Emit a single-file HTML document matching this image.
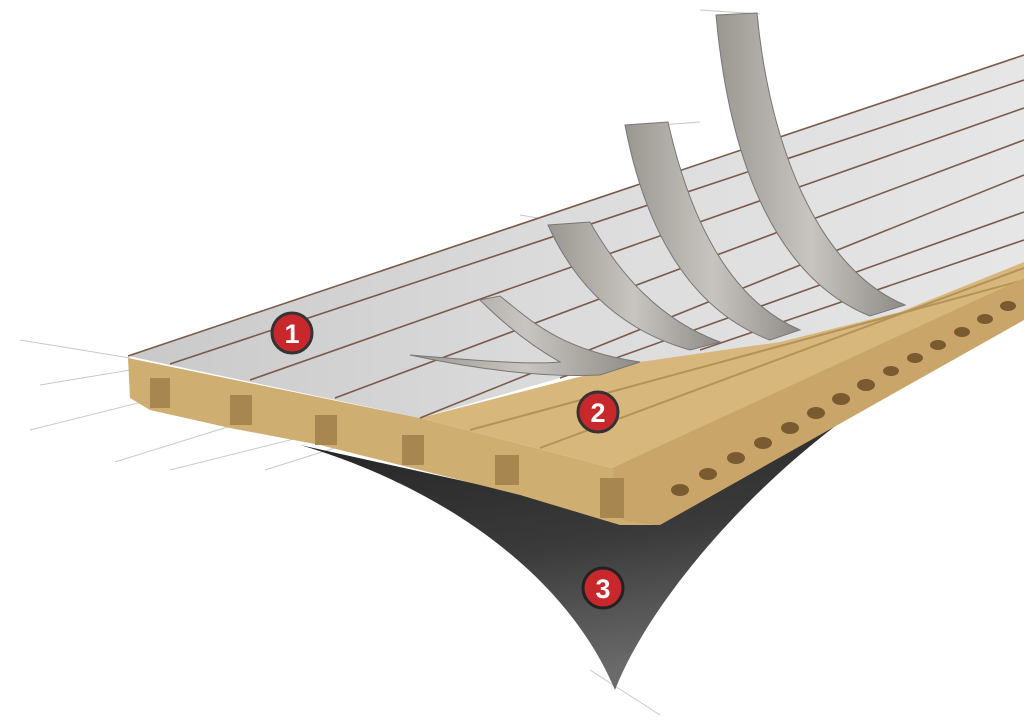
<!DOCTYPE html>
<html><head><style>html,body{margin:0;padding:0;background:#fff;width:1024px;height:722px;overflow:hidden}</style></head>
<body>
<svg width="1024" height="722" viewBox="0 0 1024 722" xmlns="http://www.w3.org/2000/svg">
<defs>
<linearGradient id="fl" x1="0" y1="0" x2="0.3" y2="1"><stop offset="0" stop-color="#1e1e1e"/><stop offset="0.6" stop-color="#3a3a3a"/><stop offset="1" stop-color="#6a6a6a"/></linearGradient>
<linearGradient id="gr" x1="0" y1="0" x2="1" y2="0"><stop offset="0" stop-color="#c9c9c9"/><stop offset="0.5" stop-color="#dcdcdc"/><stop offset="1" stop-color="#e6e6e6"/></linearGradient>
<linearGradient id="st" x1="0" y1="0" x2="1" y2="0"><stop offset="0" stop-color="#9a9690"/><stop offset="0.5" stop-color="#c8c5c0"/><stop offset="1" stop-color="#8e8a85"/></linearGradient>
</defs>
<g stroke="#c8c8c8" stroke-width="1" fill="none">
<line x1="20" y1="340" x2="130" y2="358"/><line x1="40" y1="385" x2="130" y2="370"/><line x1="30" y1="430" x2="150" y2="400"/>
<line x1="115" y1="462" x2="250" y2="420"/><line x1="170" y1="470" x2="330" y2="430"/><line x1="265" y1="470" x2="360" y2="440"/>
<line x1="700" y1="10" x2="760" y2="14"/><line x1="660" y1="125" x2="700" y2="122"/><line x1="520" y1="215" x2="560" y2="222"/>
<line x1="590" y1="670" x2="660" y2="715"/>
</g>
<path d="M300,445 C420,480 560,560 615,690 C650,600 760,470 890,388 L640,520 Z" fill="url(#fl)"/>
<polygon points="420,418 1024,262 1024,282 612,468" fill="#d8b77c"/>
<g stroke="#b4935a" stroke-width="2"><line x1="470" y1="430" x2="1024" y2="280"/><line x1="540" y1="448" x2="1024" y2="268"/></g>
<polygon points="612,468 1024,278 1024,320 660,525 620,520" fill="#c9a56a"/>
<g fill="#7a5a30">
<ellipse cx="680" cy="490" rx="9" ry="6"/><ellipse cx="708" cy="474" rx="9" ry="6"/><ellipse cx="736" cy="458" rx="9" ry="6"/><ellipse cx="763" cy="443" rx="9" ry="6"/><ellipse cx="790" cy="428" rx="9" ry="6"/><ellipse cx="816" cy="413" rx="9" ry="6"/><ellipse cx="841" cy="399" rx="9" ry="6"/><ellipse cx="866" cy="385" rx="9" ry="6"/><ellipse cx="891" cy="371" rx="8" ry="5"/><ellipse cx="915" cy="358" rx="8" ry="5"/><ellipse cx="938" cy="345" rx="8" ry="5"/><ellipse cx="962" cy="332" rx="8" ry="5"/><ellipse cx="985" cy="319" rx="8" ry="5"/><ellipse cx="1008" cy="306" rx="8" ry="5"/>
</g>
<polygon points="128,358 420,418 612,468 622,520 660,525 620,525 520,495 420,470 320,445 230,428 150,410 130,398" fill="#cfae72"/>
<g fill="#a8864f">
<rect x="150" y="378" width="20" height="30"/><rect x="230" y="395" width="22" height="30"/><rect x="315" y="415" width="22" height="30"/><rect x="402" y="435" width="22" height="30"/><rect x="495" y="455" width="24" height="30"/><rect x="600" y="478" width="24" height="40"/>
</g>
<polygon points="128,356 1024,55 1024,262 900,312 780,342 640,362 560,378 420,418" fill="url(#gr)"/>
<g stroke="#7a5a48" stroke-width="1.6">
<line x1="128" y1="356" x2="1024" y2="55"/><line x1="170" y1="364" x2="1024" y2="80"/><line x1="250" y1="380" x2="1024" y2="108"/><line x1="335" y1="398" x2="1024" y2="140"/><line x1="420" y1="418" x2="1024" y2="175"/><line x1="560" y1="378" x2="1024" y2="212"/><line x1="700" y1="350" x2="1024" y2="240"/>
</g>
<path d="M480,300 L500,296 C530,320 560,350 640,362 L600,375 C540,378 470,368 410,355 C470,360 530,365 560,362 C530,345 505,325 480,300 Z" fill="url(#st)" stroke="#777" stroke-width="1"/>
<path d="M548,225 L590,222 C620,275 660,320 720,342 L690,350 C620,330 575,285 548,225 Z" fill="url(#st)" stroke="#777" stroke-width="1"/>
<path d="M625,125 L668,122 C690,220 730,300 800,330 L770,340 C690,310 645,230 625,125 Z" fill="url(#st)" stroke="#777" stroke-width="1"/>
<path d="M716,15 L757,13 C770,150 820,270 905,305 L870,316 C780,280 730,170 716,15 Z" fill="url(#st)" stroke="#777" stroke-width="1"/>
<g font-family="Liberation Sans, sans-serif" font-size="27" font-weight="bold" fill="#fff" text-anchor="middle">
<circle cx="292" cy="333" r="20" fill="#c8282c" stroke="#333" stroke-width="3"/><text x="292" y="343">1</text>
<circle cx="598" cy="412" r="20" fill="#c8282c" stroke="#333" stroke-width="3"/><text x="598" y="422">2</text>
<circle cx="603" cy="588" r="20" fill="#c8282c" stroke="#222" stroke-width="3"/><text x="603" y="598">3</text>
</g>
</svg>
</body></html>
